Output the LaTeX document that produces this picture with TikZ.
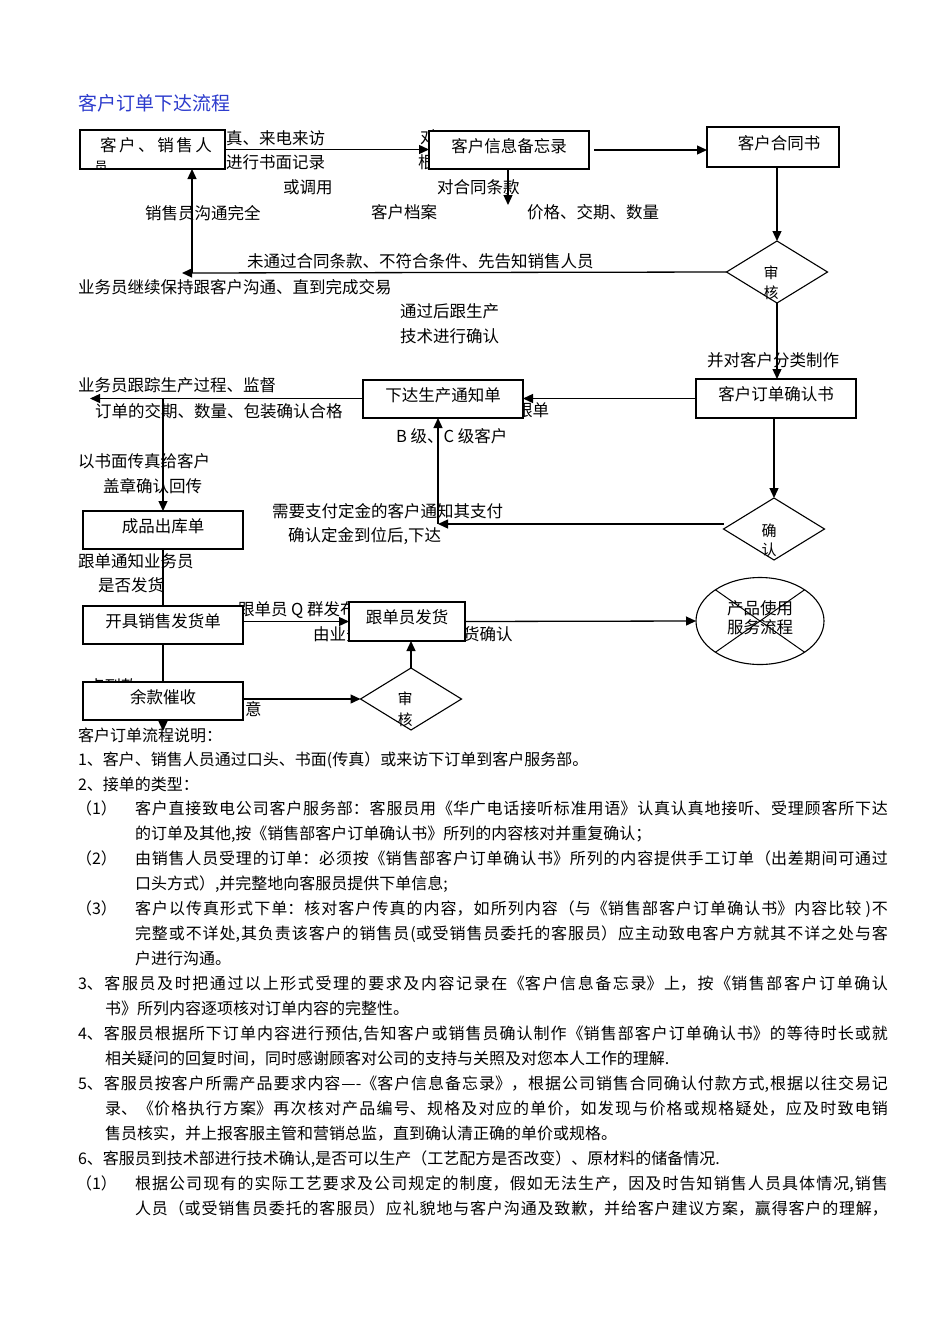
\documentclass[tikz,border=0pt]{standalone}
\usepackage{fontspec}
\setmainfont{Noto Sans CJK SC}
\usetikzlibrary{arrows.meta,shapes.geometric}
\XeTeXlinebreaklocale "zh"
\XeTeXlinebreakskip=0pt plus 4pt minus 0.3pt
\definecolor{titleblue}{RGB}{45,60,205}
\newcommand\jl[2]{\parbox[t]{#1pt}{\parfillskip=0pt\relax\noindent #2}}
\begin{document}
\begin{tikzpicture}[x=1pt,y=-1pt,
  every node/.style={inner sep=0pt, outer sep=0pt},
  lbl/.style={anchor=west, font=\fontsize{16.5}{18}\selectfont, text height=14.5pt, text depth=1.9pt},
  lblc/.style={lbl, anchor=center},
  box/.style={draw, line width=1.2pt, fill=white, font=\fontsize{16.5}{18}\selectfont, text height=14.5pt, text depth=10.5pt},
  dia/.style={draw, diamond, line width=1.1pt, minimum width=101pt, minimum height=62pt},
  dtxt/.style={font=\fontsize{15}{16}\selectfont, text height=13.2pt, text depth=1.7pt},
  arr/.style={line width=1.3pt, -{Triangle[length=10pt,width=9pt]}},
  ln/.style={line width=1.3pt},
  body/.style={anchor=west, font=\fontsize{16}{18}\selectfont, text height=14pt, text depth=1.8pt},
]
\useasboundingbox (0,0) rectangle (950,1344);
\fill[white] (0,0) rectangle (950,1344);

% title
\node[anchor=west, font=\fontsize{19}{20}\selectfont, text=titleblue, text height=16.7pt, text depth=2.2pt] (title) at (78,103) {客户订单下达流程};

% fragments partly hidden behind boxes
\node[lbl] (fdui) at (420,137) {对};
\node[lbl] (fgen) at (418,162) {根};
\node[lbl] (fgendan) at (516,410) {跟单};
\node[lbl] (fqun) at (238,609) {跟单员 Q 群发布};
\node[lbl] (fyou) at (313,634) {由业务};
\node[lbl] (ffh) at (446.5,634) {发货确认};
\node[lbl] (fdk) at (88,686) {点到款};

% boxes
\node[box, minimum width=145pt, minimum height=39pt] (b1) at (152.5,149.5) {\hspace{7pt}\makebox[112pt][s]{客\hfil 户\hfil 、\hfil 销\hfil 售\hfil 人}};
\node[box, minimum width=160pt, minimum height=38pt] (b2) at (509,150) {客户信息备忘录};
\node[box, minimum width=132pt, minimum height=40pt] (b3) at (773,147) {\hspace{12pt}客户合同书};
\node[box, minimum width=160pt, minimum height=39pt] (b4) at (776,398.5) {客户订单确认书};
\node[box, minimum width=160pt, minimum height=38pt] (b5) at (443,399) {下达生产通知单};
\node[box, minimum width=160pt, minimum height=38pt] (b6) at (163,530) {成品出库单\hspace{18pt}};
\node[box, minimum width=160pt, minimum height=38pt] (b7) at (163,625) {开具销售发货单};
\node[box, minimum width=116pt, minimum height=39pt] (b8) at (407,621.5) {跟单员发货\hspace{8pt}};
\node[box, minimum width=160pt, minimum height=38pt] (b9) at (163,701) {余款催收\hspace{26pt}};
\begin{scope}
  \clip (81,131) rectangle (224,168);
  \node[font=\fontsize{13}{13}\selectfont] (yuan) at (101,167) {员};
\end{scope}

% decisions
\node[dia] (d1) at (777,272) {};
\node[dia] (d2) at (774,529) {};
\node[dia] (d3) at (411,699) {};
\node[dtxt] (d1a) at (771,273) {审};
\node[dtxt] (d1b) at (771,293) {核};
\node[dtxt] (d2a) at (769,531) {确};
\node[dtxt] (d2b) at (769,550) {认};
\node[dtxt] (d3a) at (405,699) {审};
\node[dtxt] (d3b) at (405,720) {核};

% end ellipse
\node[draw, ellipse, line width=1.1pt, minimum width=128pt, minimum height=87pt] (e) at (760,621) {};
\node[lblc] (e1) at (760,608) {产品使用};
\node[lblc] (e2) at (760,627) {服务流程};
\draw[line width=1pt] (e.145) -- (e.-35) (e.35) -- (e.-145);

% connectors
\coordinate (c1) at (508,205);
\coordinate (c2) at (182,273);
\coordinate (c3) at (192,273);
\coordinate (c4) at (90,398.5);
\coordinate (c5) at (163,398.5);
\coordinate (c6) at (438,524);
\coordinate (c7) at (163,731);
\draw[arr] (b1.east) -- (b2.west |- b1.east);
\draw[arr] ([xshift=5pt]b2.east) -- (b3.west |- b2.east);
\draw[arr] (b2.south -| c1) -- (c1);
\draw[arr] (d1.north |- b3.south) -- (d1.north);
\draw[arr] (d1.west) -- (c2);
\draw[arr] (c3) -- (b1.south -| c3);
\draw[arr] (d1.south) -- (d1.south |- b4.north);
\draw[arr] (b4.west) -- (b5.east |- b4.west);
\draw[arr] (b5.west |- c4) -- (c4);
\draw[arr] (c5) -- (b6.north);
\draw[arr] (d2.north |- b4.south) -- (d2.north);
\draw[arr] (d2.west |- c6) -- (c6);
\draw[arr] (c6) -- (b5.south -| c6);
\draw[ln] (b6.south) -- (b7.north);
\draw[arr] (b7.east |- b8.west) -- (b8.west);
\draw[arr] (b8.east) -- (e.west);
\draw[ln] (b7.south) -- (b9.north);
\draw[arr] (b9.east |- d3.west) -- (d3.west);
\draw[arr] (d3.north) -- (d3.north |- b8.south);
\draw[arr] (b9.south) -- (c7);

% flow labels
\node[lbl] (l1) at (226,138) {真、来电来访};
\node[lbl] (l2) at (226,162) {进行书面记录};
\node[lbl] (l3) at (283,187) {或调用};
\node[lbl] (l4) at (145,213) {销售员沟通完全};
\node[lbl] (l5) at (371,212) {客户档案};
\node[lbl] (l6) at (437,187) {对合同条款};
\node[lbl] (l7) at (527,212) {价格、交期、数量};
\node[lbl] (l8) at (247,261) {未通过合同条款、不符合条件、先告知销售人员};
\node[lbl] (l9) at (78,287) {业务员继续保持跟客户沟通、直到完成交易};
\node[lbl] (l10) at (400,311) {通过后跟生产};
\node[lbl] (l11) at (400,336) {技术进行确认};
\node[lbl] (l12) at (707,360) {并对客户分类制作};
\node[lbl] (l13) at (78,385) {业务员跟踪生产过程、监督};
\node[lbl] (l14) at (95,411) {订单的交期、数量、包装确认合格};
\node[lbl] (l15) at (396,436) {B 级、C 级客户};
\node[lbl] (l16) at (78,461) {以书面传真给客户};
\node[lbl] (l17) at (103,486) {盖章确认回传};
\node[lbl] (l18) at (272,511) {需要支付定金的客户通知其支付};
\node[lbl] (l19) at (288,535) {确认定金到位后,下达};
\node[lbl] (l20) at (78,561) {跟单通知业务员};
\node[lbl] (l21) at (98,585) {是否发货};
\node[lbl] (l22) at (245,709) {意};

% description text
\node[body] (t0) at (78,735) {客户订单流程说明：};
\node[body] (t1) at (78,759) {1、客户、销售人员通过口头、书面(传真）或来访下订单到客户服务部。};
\node[body] (t2) at (78,784) {2、接单的类型：};
\node[body] (p1) at (76,808) {（1）};
\node[body] (t3) at (135,808) {\jl{753}{客户直接致电公司客户服务部：客服员用《华广电话接听标准用语》认真认真地接听、受理顾客所下达}};
\node[body] (t4) at (135,833) {的订单及其他,按《销售部客户订单确认书》所列的内容核对并重复确认；};
\node[body] (p2) at (76,858) {（2）};
\node[body] (t5) at (135,858) {\jl{753}{由销售人员受理的订单：必须按《销售部客户订单确认书》所列的内容提供手工订单（出差期间可通过}};
\node[body] (t6) at (135,883) {口头方式）,并完整地向客服员提供下单信息;};
\node[body] (p3) at (76,908) {（3）};
\node[body] (t7) at (135,908) {\jl{753}{客户以传真形式下单：核对客户传真的内容，如所列内容（与《销售部客户订单确认书》内容比较 )不}};
\node[body] (t8) at (135,933) {\jl{753}{完整或不详处,其负责该客户的销售员(或受销售员委托的客服员）应主动致电客户方就其不详之处与客}};
\node[body] (t9) at (135,958) {户进行沟通。};
\node[body] (t10) at (78,983) {\jl{810}{3、客服员及时把通过以上形式受理的要求及内容记录在《客户信息备忘录》上，按《销售部客户订单确认}};
\node[body] (t11) at (105,1008) {书》所列内容逐项核对订单内容的完整性。};
\node[body] (t12) at (78,1033) {\jl{810}{4、客服员根据所下订单内容进行预估,告知客户或销售员确认制作《销售部客户订单确认书》的等待时长或就}};
\node[body] (t13) at (105,1058) {相关疑问的回复时间，同时感谢顾客对公司的支持与关照及对您本人工作的理解.};
\node[body] (t14) at (78,1083) {\jl{810}{5、客服员按客户所需产品要求内容—-《客户信息备忘录》，根据公司销售合同确认付款方式,根据以往交易记}};
\node[body] (t15) at (105,1108) {\jl{783}{录、《价格执行方案》再次核对产品编号、规格及对应的单价，如发现与价格或规格疑处，应及时致电销}};
\node[body] (t16) at (105,1133) {售员核实，并上报客服主管和营销总监，直到确认清正确的单价或规格。};
\node[body] (t17) at (78,1158) {6、客服员到技术部进行技术确认,是否可以生产（工艺配方是否改变）、原材料的储备情况.};
\node[body] (p4) at (76,1183) {（1）};
\node[body] (t18) at (135,1183) {\jl{753}{根据公司现有的实际工艺要求及公司规定的制度，假如无法生产，因及时告知销售人员具体情况,销售}};
\node[body] (t19) at (135,1208) {\jl{753}{人员（或受销售员委托的客服员）应礼貌地与客户沟通及致歉，并给客户建议方案，赢得客户的理解，}};
\end{tikzpicture}
\end{document}
